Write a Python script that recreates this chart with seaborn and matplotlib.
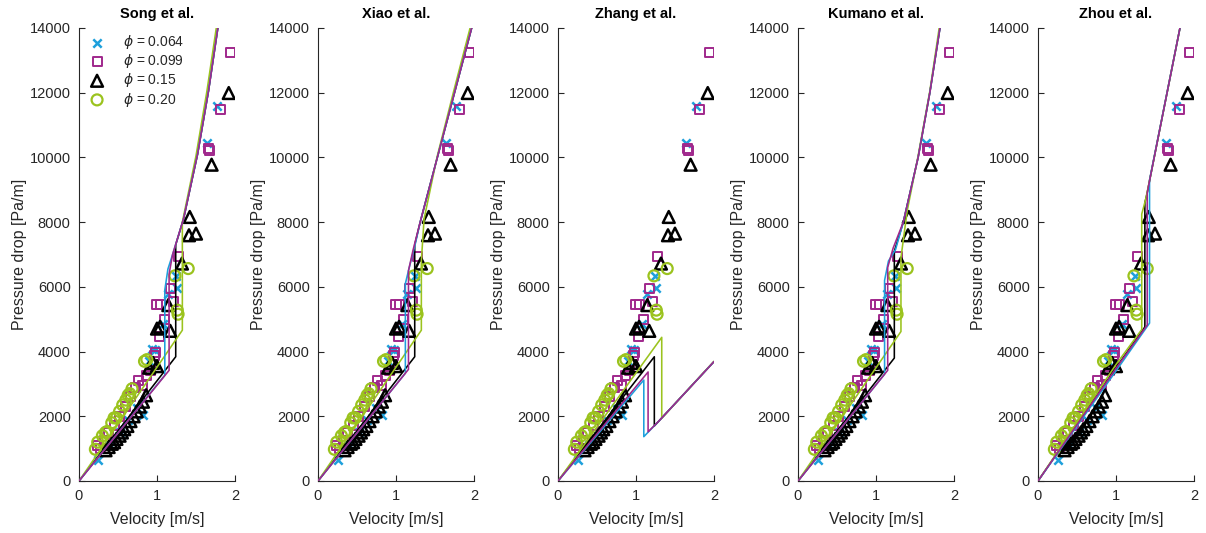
import matplotlib
matplotlib.use("Agg")
import matplotlib.pyplot as plt
import seaborn as sns
import pandas as pd

# ---------------- data ----------------
titles = ["Song et al.", "Xiao et al.", "Zhang et al.", "Kumano et al.", "Zhou et al."]
phi_labels = [r"$\phi$ = 0.064", r"$\phi$ = 0.099", r"$\phi$ = 0.15", r"$\phi$ = 0.20"]

# experimental points (velocity m/s, pressure drop Pa/m)
exp_v_064 = [0.25, 0.40, 0.52, 0.63, 0.74, 0.82, 0.90, 0.94, 0.97, 1.08, 1.14, 1.24, 1.26, 1.64, 1.765]
exp_dp_064 = [650, 1100, 1500, 1900, 2250, 2050, 3700, 4090, 4050, 4850, 5770, 6330, 5970, 10450, 11575]

exp_v_099 = [0.24, 0.28, 0.33, 0.38, 0.45, 0.52, 0.60, 0.66, 0.72, 0.76, 0.82, 0.86, 0.92, 0.97, 0.98,
             1.00, 1.03, 1.04, 1.09, 1.17, 1.21, 1.28, 1.665, 1.67, 1.81, 1.945]
exp_dp_099 = [1110, 1000, 1250, 1500, 1700, 2000, 2300, 2600, 2900, 3120, 2950, 3250, 3430, 3890, 3960,
              5465, 4475, 5465, 5000, 5950, 5535, 6945, 10290, 10220, 11475, 13250]

exp_v_15 = [0.34, 0.38, 0.42, 0.45, 0.48, 0.52, 0.55, 0.58, 0.62, 0.66, 0.70, 0.74, 0.78, 0.82, 0.86,
            0.90, 0.95, 1.00, 1.00, 1.04, 1.145, 1.17, 1.32, 1.41, 1.42, 1.50, 1.70, 1.92]
exp_dp_15 = [950, 1050, 1150, 1200, 1300, 1400, 1500, 1600, 1700, 1850, 2000, 2150, 2300, 2450, 2650,
             3500, 3650, 3550, 4710, 4765, 5435, 4640, 6720, 7595, 8160, 7645, 9775, 11990]

exp_v_20 = [0.21, 0.24, 0.30, 0.34, 0.36, 0.42, 0.45, 0.48, 0.52, 0.56, 0.60, 0.63, 0.65, 0.68, 0.84,
            0.87, 1.23, 1.26, 1.27, 1.40]
exp_dp_20 = [980, 1200, 1400, 1500, 1530, 1800, 1950, 1950, 2150, 2350, 2500, 2650, 2700, 2850, 3700,
             3750, 6340, 5280, 5155, 6565]

# model curves: one list per phi (0.064, 0.099, 0.15, 0.20)
song_v = [[0, 1.10, 1.10, 1.14, 1.20, 1.34, 1.52, 1.66, 1.78, 1.86],
          [0, 1.155, 1.155, 1.20, 1.34, 1.52, 1.66, 1.78, 1.86],
          [0, 1.24, 1.24, 1.34, 1.52, 1.66, 1.78, 1.86],
          [0, 1.325, 1.325, 1.50, 1.64, 1.76, 1.84]]
song_dp = [[0, 3270, 5900, 6550, 7000, 8100, 10100, 12050, 14000, 15400],
           [0, 3420, 6400, 7000, 8100, 10100, 12050, 14000, 15400],
           [0, 3840, 7300, 8100, 10100, 12050, 14000, 15400],
           [0, 4660, 8000, 10050, 12050, 14000, 15400]]

xiao_v = [[0, 1.12, 1.12, 1.17, 1.24, 1.31, 1.53, 1.75, 1.97, 2.05],
          [0, 1.16, 1.16, 1.22, 1.31, 1.53, 1.75, 1.97, 2.05],
          [0, 1.24, 1.24, 1.31, 1.53, 1.75, 1.97, 2.05],
          [0, 1.325, 1.325, 1.36, 1.53, 1.74, 1.95, 2.05]]
xiao_dp = [[0, 3330, 6100, 6600, 7250, 8000, 10000, 12000, 14000, 14800],
           [0, 3450, 6500, 7150, 8000, 10000, 12000, 14000, 14800],
           [0, 3840, 7300, 8000, 10000, 12000, 14000, 14800],
           [0, 4660, 6800, 8100, 10050, 12050, 14000, 14900]]

zhang_v = [[0, 1.10, 1.10, 1.30, 1.60, 2.00],
           [0, 1.155, 1.155, 1.30, 1.60, 2.00],
           [0, 1.235, 1.235, 1.30, 1.60, 2.00],
           [0, 1.33, 1.33, 1.60, 2.00]]
zhang_dp = [[0, 3120, 1370, 1870, 2650, 3690],
            [0, 3370, 1520, 1870, 2650, 3690],
            [0, 3840, 1700, 1870, 2650, 3690],
            [0, 4440, 1940, 2650, 3700]]

kumano_v = [[0, 1.11, 1.11, 1.16, 1.25, 1.35, 1.54, 1.69, 1.82, 1.88],
            [0, 1.15, 1.15, 1.22, 1.35, 1.54, 1.69, 1.82, 1.88],
            [0, 1.235, 1.235, 1.35, 1.54, 1.69, 1.82, 1.88],
            [0, 1.32, 1.32, 1.40, 1.54, 1.69, 1.81, 1.87]]
kumano_dp = [[0, 3300, 6200, 6800, 7150, 8000, 10000, 12000, 14000, 14900],
             [0, 3420, 6600, 7200, 8000, 10000, 12000, 14000, 14900],
             [0, 3800, 7100, 8000, 10000, 12000, 14000, 14900],
             [0, 4620, 6900, 8350, 10050, 12050, 14000, 14900]]

zhou_v = [[0, 1.0, 1.43, 1.43, 1.82, 1.88],
          [0, 1.0, 1.40, 1.40, 1.44, 1.82, 1.88],
          [0, 1.0, 1.37, 1.37, 1.40, 1.44, 1.82, 1.88],
          [0, 1.0, 1.33, 1.33, 1.38, 1.44, 1.82, 1.88]]
zhou_dp = [[0, 3400, 4880, 9300, 14000, 14700],
           [0, 3480, 4820, 8900, 9400, 14000, 14700],
           [0, 3500, 4760, 8600, 8900, 9400, 14000, 14700],
           [0, 3600, 4680, 8250, 8700, 9400, 14000, 14700]]

# ---------------- style ----------------
colors = ["#1EA0DC", "#A0288C", "#000000", "#9BC31E"]
markers = ["x", "s", "^", "o"]
msizes = [36, 42, 72, 62]
mlw = [1.8, 1.4, 1.8, 1.6]

sns.set_theme(style="white")
plt.rcParams["font.family"] = ["Liberation Sans", "DejaVu Sans"]
plt.rcParams["mathtext.fontset"] = "dejavusans"
plt.rcParams["xtick.direction"] = "in"
plt.rcParams["ytick.direction"] = "in"

fig = plt.figure(figsize=(12.06, 5.33), dpi=100)
W, H = 1206.0, 533.0
lefts = [79, 318, 558, 798, 1038]

exp_sets = [(exp_v_064, exp_dp_064), (exp_v_099, exp_dp_099),
            (exp_v_15, exp_dp_15), (exp_v_20, exp_dp_20)]
model_sets = [(song_v, song_dp), (xiao_v, xiao_dp), (zhang_v, zhang_dp),
              (kumano_v, kumano_dp), (zhou_v, zhou_dp)]

line_order = [2, 3, 0, 1]
grey = "#262626"

for k in range(5):
    ax = fig.add_axes([lefts[k] / W, (H - 481) / H, 156 / W, 453 / H])
    handles = []
    for i, (vv, pp) in enumerate(exp_sets):
        df = pd.DataFrame({"v": vv, "dp": pp})
        if markers[i] == "x":
            sns.scatterplot(data=df, x="v", y="dp", marker="x", color=colors[i],
                            s=msizes[i], linewidth=mlw[i], ax=ax, zorder=2, legend=False)
        else:
            sns.scatterplot(data=df, x="v", y="dp", marker=markers[i], facecolor="none",
                            edgecolor=colors[i], s=msizes[i], linewidth=mlw[i], ax=ax,
                            zorder=2, legend=False)
        handles.append(ax.collections[-1])
    mv, mp = model_sets[k]
    for i in line_order:
        df = pd.DataFrame({"v": mv[i], "dp": mp[i]})
        sns.lineplot(data=df, x="v", y="dp", sort=False, estimator=None, color=colors[i],
                     linewidth=1.15, ax=ax, zorder=3, legend=False)
    ax.set_xlim(0, 2)
    ax.set_ylim(0, 14000)
    ax.set_xticks([0, 1, 2])
    ax.set_yticks(range(0, 14001, 2000))
    ax.set_xlabel("Velocity [m/s]", fontsize=11.5, color=grey, labelpad=6)
    ax.set_ylabel("Pressure drop [Pa/m]", fontsize=11.5, color=grey, labelpad=2)
    ax.set_title(titles[k], fontsize=10.5, fontweight="bold", color="black", pad=7)
    ax.tick_params(axis="both", labelsize=10.5, colors=grey, length=4, width=0.8,
                   left=True, bottom=True, pad=6)
    for s in ["top", "right"]:
        ax.spines[s].set_visible(False)
    for s in ["left", "bottom"]:
        ax.spines[s].set_color(grey)
        ax.spines[s].set_linewidth(0.8)
    if k == 0:
        ax.legend(handles, phi_labels, loc="upper left", bbox_to_anchor=(0.0, 1.01),
                  frameon=False, fontsize=10, handlelength=1.2, handletextpad=1.3,
                  labelspacing=0.08, borderaxespad=0.3, labelcolor=grey)

fig.savefig("out.png", dpi=100)
